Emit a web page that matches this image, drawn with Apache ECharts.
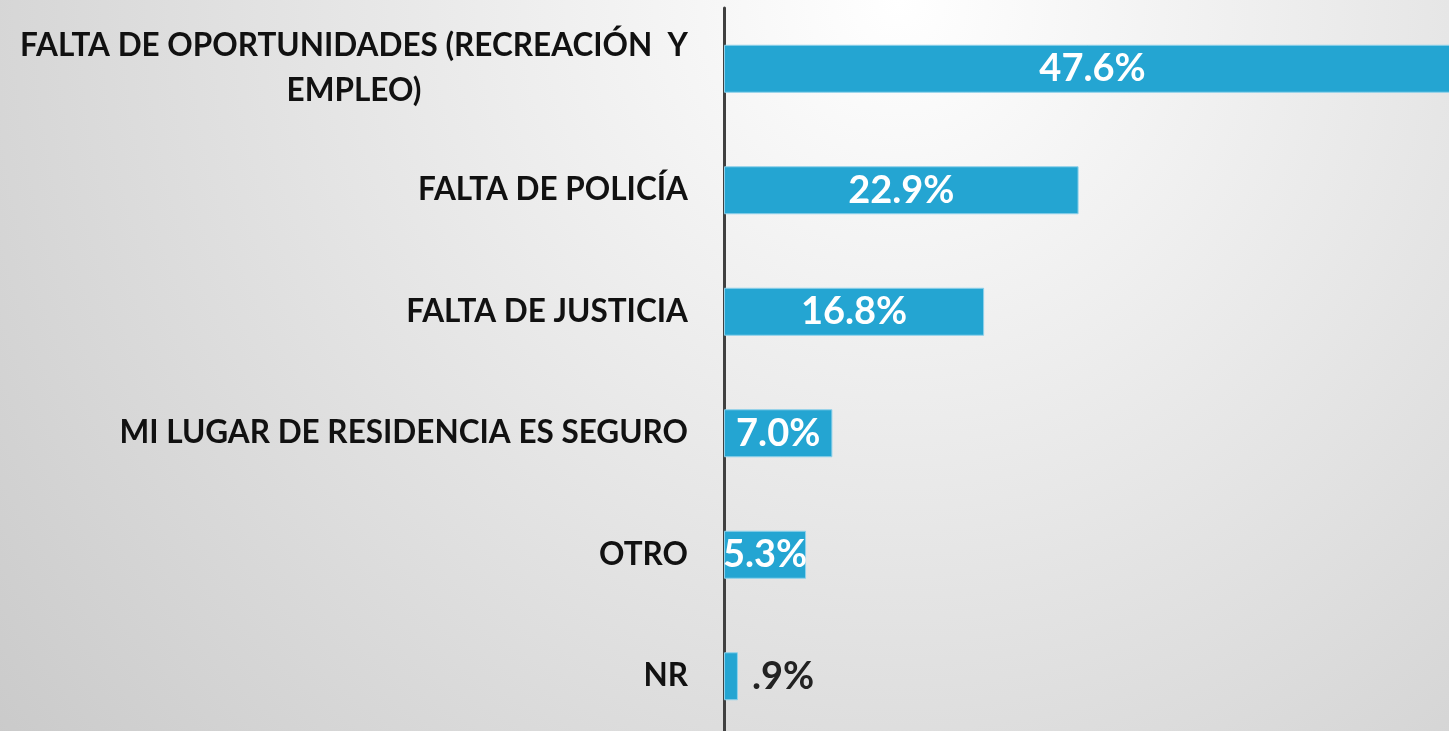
<!DOCTYPE html>
<html>
<head>
<meta charset="utf-8">
<script src="https://cdn.jsdelivr.net/npm/echarts@6/dist/echarts.min.js"></script>
<style>
  html, body { margin: 0; padding: 0; }
  #chart { width: 1449px; height: 731px; }
</style>
</head>
<body>
<div id="chart"></div>
<script>
// datos
const categories = [
  'FALTA DE OPORTUNIDADES (RECREACIÓN  Y\nEMPLEO)',
  'FALTA DE POLICÍA',
  'FALTA DE JUSTICIA',
  'MI LUGAR DE RESIDENCIA ES SEGURO',
  'OTRO',
  'NR'
]
const values = [47.6, 22.9, 16.8, 7.0, 5.3, 0.9]
const valueLabels = ['47.6%', '22.9%', '16.8%', '7.0%', '5.3%', '.9%']

const font = '"Lato", sans-serif'

const chart = echarts.init(document.getElementById('chart'))

const option = {
  backgroundColor: {
    type: 'radial',
    x: 0.62, y: 0, r: 1.75,
    colorStops: [
      { offset: 0, color: '#ffffff' },
      { offset: 1, color: '#c5c5c5' }
    ]
  },
  grid: { left: 724, right: -12, top: 8, bottom: -6, outerBoundsMode: 'none', containLabel: false },
  xAxis: {
    type: 'value',
    min: 0,
    max: 47.6,
    show: false
  },
  yAxis: {
    type: 'category',
    inverse: true,
    data: categories,
    axisLine: { lineStyle: { color: '#404040', width: 3 } },
    axisTick: { show: false },
    axisLabel: {
      margin: 36,
      color: '#111',
      fontFamily: font,
      fontWeight: 'bold',
      fontSize: 31.5,
      lineHeight: 45,
      formatter: function (v) {
        // la primera etiqueta va centrada en dos lineas
        if (v.indexOf('\n') >= 0) {
          return v.split('\n').map(s => '{c|' + s + '}').join('\n')
        }
        return v
      },
      rich: {
        c: {
          align: 'center',
          color: '#111',
          fontFamily: font,
          fontWeight: 'bold',
          fontSize: 31.5,
          lineHeight: 45
        }
      }
    }
  },
  series: [
    {
      type: 'bar',
      barWidth: 48,
      itemStyle: {
        color: '#24a5d2',
        borderColor: '#8fd1ea',
        borderWidth: 1
      },
      data: values.map((v, i) => ({
        value: v,
        label: v < 2
          ? { position: 'right', distance: 14, color: '#222' }
          : { position: 'inside', color: '#fff' }
      })),
      label: {
        show: true,
        fontFamily: font,
        fontWeight: 'bold',
        fontSize: 38,
        formatter: p => valueLabels[p.dataIndex]
      }
    }
  ]
}

chart.setOption(option)
</script>
</body>
</html>
